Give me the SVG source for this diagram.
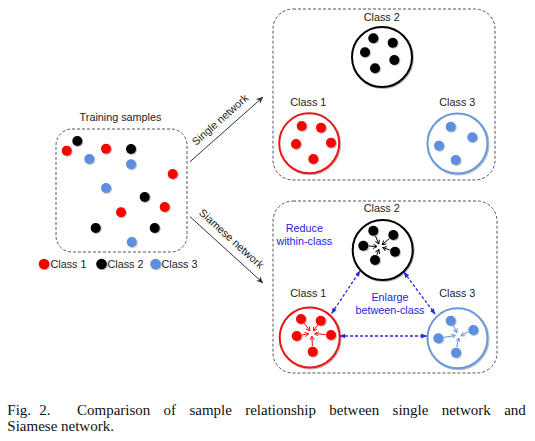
<svg xmlns="http://www.w3.org/2000/svg" width="535" height="441" viewBox="0 0 535 441">
<style>
.box{fill:none;stroke:#555;stroke-width:1;stroke-dasharray:3 2}
.lbl{font-family:"Liberation Sans",Arial,sans-serif;font-size:10.8px;fill:#222}
.blue{font-family:"Liberation Sans",Arial,sans-serif;font-size:10.8px;fill:#2323e8}
.cap{font-family:"Liberation Serif","Times New Roman",serif;font-size:15px;fill:#111}
.r{fill:#f00}
.k{fill:#000}
.b{fill:#5b8fdf}
.dot{filter:url(#sh)}
.ring{fill:#fff;stroke-width:2;filter:url(#sh)}
.conn{stroke:#333;stroke-width:1;fill:none;marker-end:url(#ah)}
.bd{stroke:#2a2ae0;stroke-width:1.3;stroke-dasharray:3 2;fill:none;marker-start:url(#bh);marker-end:url(#bh)}
.cv{stroke-width:1;fill:none}
</style>
<defs>
<filter id="sh" x="-50%" y="-50%" width="200%" height="200%">
<feDropShadow dx="0.8" dy="0.8" stdDeviation="0.6" flood-color="#000" flood-opacity="0.35"/>
</filter>
<marker id="ah" viewBox="0 0 10 10" refX="9" refY="5" markerWidth="7" markerHeight="7" orient="auto">
<path d="M0,0.5 L10,5 L0,9.5 L3,5 z" fill="#333"/>
</marker>
<marker id="bh" viewBox="0 0 10 10" refX="9" refY="5" markerWidth="6" markerHeight="6" markerUnits="userSpaceOnUse" orient="auto-start-reverse">
<path d="M0,1 L10,5 L0,9 z" fill="#2a2ae0"/>
</marker>
<marker id="cr" viewBox="0 0 6 6" refX="5" refY="3" markerWidth="5" markerHeight="5" markerUnits="userSpaceOnUse" orient="auto">
<path d="M0.5,0.3 L5,3 L0.5,5.7" fill="none" stroke="#f00" stroke-width="1.1"/>
</marker>
<marker id="ck" viewBox="0 0 6 6" refX="5" refY="3" markerWidth="5" markerHeight="5" markerUnits="userSpaceOnUse" orient="auto">
<path d="M0.5,0.3 L5,3 L0.5,5.7" fill="none" stroke="#000" stroke-width="1.1"/>
</marker>
<marker id="cb" viewBox="0 0 6 6" refX="5" refY="3" markerWidth="5" markerHeight="5" markerUnits="userSpaceOnUse" orient="auto">
<path d="M0.5,0.3 L5,3 L0.5,5.7" fill="none" stroke="#5b8fdf" stroke-width="1.1"/>
</marker>
</defs>

<g id="training">
<rect class="box" x="56" y="129" width="131" height="123" rx="16"/>
<text class="lbl" x="120.5" y="120.7" text-anchor="middle">Training samples</text>
<g class="dot">
<circle class="r" cx="66.7" cy="150.7" r="5"/>
<circle class="k" cx="77.3" cy="141" r="5"/>
<circle class="r" cx="106" cy="148.7" r="5"/>
<circle class="k" cx="131" cy="149" r="5"/>
<circle class="b" cx="89.3" cy="159" r="5"/>
<circle class="b" cx="131" cy="164.3" r="5"/>
<circle class="r" cx="172.7" cy="174" r="5"/>
<circle class="b" cx="106" cy="188" r="5"/>
<circle class="k" cx="144.7" cy="197" r="5"/>
<circle class="r" cx="164.7" cy="207" r="5"/>
<circle class="r" cx="121" cy="212.3" r="5"/>
<circle class="k" cx="95.7" cy="228" r="5"/>
<circle class="k" cx="154.7" cy="228" r="5"/>
<circle class="b" cx="131.7" cy="242" r="5"/>
</g>
</g>

<g id="legend">
<g class="dot">
<circle class="r" cx="44" cy="264" r="5.3"/>
<circle class="k" cx="101.5" cy="264" r="5.3"/>
<circle class="b" cx="155.5" cy="264" r="5.3"/>
</g>
<text class="lbl" x="50.5" y="268">Class 1</text>
<text class="lbl" x="107.5" y="268">Class 2</text>
<text class="lbl" x="161.5" y="268">Class 3</text>
</g>

<g id="single-result">
<rect class="box" x="273" y="9" width="222" height="171" rx="20"/>
<g id="single-class2">
<text class="lbl" x="381.7" y="20.5" text-anchor="middle">Class 2</text>
<circle class="ring" cx="382" cy="57" r="30" stroke="#000"/>
<g class="dot">
<circle class="k" cx="373.3" cy="38.3" r="5"/>
<circle class="k" cx="392.7" cy="42.7" r="5"/>
<circle class="k" cx="365" cy="52.3" r="5"/>
<circle class="k" cx="394.3" cy="60" r="5"/>
<circle class="k" cx="375" cy="68.3" r="5"/>
</g>
</g>
<g id="single-class1">
<text class="lbl" x="308.3" y="106" text-anchor="middle">Class 1</text>
<circle class="ring" cx="309.2" cy="143.3" r="30" stroke="#e81818"/>
<g class="dot">
<circle class="r" cx="301.7" cy="126" r="5"/>
<circle class="r" cx="321" cy="127.7" r="5"/>
<circle class="r" cx="296" cy="144" r="5"/>
<circle class="r" cx="331" cy="142.7" r="5"/>
<circle class="r" cx="313.3" cy="159" r="5"/>
</g>
</g>
<g id="single-class3">
<text class="lbl" x="457.3" y="106" text-anchor="middle">Class 3</text>
<circle class="ring" cx="457.5" cy="143.5" r="30" stroke="#6a98dd"/>
<g class="dot">
<circle class="b" cx="450.7" cy="126.7" r="5"/>
<circle class="b" cx="472.3" cy="137.3" r="5"/>
<circle class="b" cx="439" cy="145.7" r="5"/>
<circle class="b" cx="455.7" cy="160" r="5"/>
</g>
</g>
</g>

<g id="siamese-result">
<rect class="box" x="273" y="201" width="224" height="172" rx="20"/>
<text class="blue" x="304.3" y="232.3" text-anchor="middle">Reduce</text>
<text class="blue" x="304.3" y="245" text-anchor="middle">within-class</text>
<text class="blue" x="390" y="301" text-anchor="middle">Enlarge</text>
<text class="blue" x="390" y="313.5" text-anchor="middle">between-class</text>
<g id="siamese-class2">
<text class="lbl" x="381.7" y="212.3" text-anchor="middle">Class 2</text>
<circle class="ring" cx="382.7" cy="250" r="30" stroke="#000"/>
<g class="dot">
<circle class="k" cx="373.3" cy="230.7" r="5"/>
<circle class="k" cx="393.3" cy="235" r="5"/>
<circle class="k" cx="363.3" cy="245.7" r="5"/>
<circle class="k" cx="395" cy="251.7" r="5"/>
<circle class="k" cx="375" cy="260" r="5"/>
</g>
<g class="cv" stroke="#000" marker-end="url(#ck)">
<line x1="375.4" y1="235.8" x2="378.8" y2="243.9"/>
<line x1="389.2" y1="238.6" x2="382.3" y2="244.7"/>
<line x1="368.8" y1="246" x2="377" y2="246.5"/>
<line x1="389.8" y1="250" x2="382.8" y2="247.6"/>
<line x1="376.9" y1="254.8" x2="378.9" y2="249.5"/>
</g>
</g>
<g id="siamese-class1">
<text class="lbl" x="308.3" y="296.7" text-anchor="middle">Class 1</text>
<circle class="ring" cx="309.7" cy="337.5" r="30" stroke="#e81818"/>
<g class="dot">
<circle class="r" cx="301" cy="319" r="5"/>
<circle class="r" cx="320.7" cy="320.7" r="5"/>
<circle class="r" cx="296.7" cy="336" r="5"/>
<circle class="r" cx="331" cy="335" r="5"/>
<circle class="r" cx="312.7" cy="351.7" r="5"/>
</g>
<g class="cv" stroke="#f00" marker-end="url(#cr)">
<line x1="304.3" y1="323.4" x2="309.9" y2="330.9"/>
<line x1="317.5" y1="325.2" x2="313.4" y2="330.9"/>
<line x1="302.1" y1="335" x2="308.7" y2="333.8"/>
<line x1="325.5" y1="334.5" x2="314.7" y2="333.6"/>
<line x1="312.4" y1="346.2" x2="311.9" y2="336.3"/>
</g>
</g>
<g id="siamese-class3">
<text class="lbl" x="457.3" y="296.7" text-anchor="middle">Class 3</text>
<circle class="ring" cx="457.5" cy="338.3" r="30" stroke="#6a98dd"/>
<g class="dot">
<circle class="b" cx="450.7" cy="320.7" r="5"/>
<circle class="b" cx="473.3" cy="330" r="5"/>
<circle class="b" cx="438.3" cy="338.3" r="5"/>
<circle class="b" cx="456" cy="352.7" r="5"/>
</g>
<g class="cv" stroke="#5b8fdf" marker-end="url(#cb)">
<line x1="453.3" y1="325.6" x2="456.9" y2="332.4"/>
<line x1="468.1" y1="331.7" x2="461.1" y2="335.9"/>
<line x1="443.7" y1="337.4" x2="455.3" y2="335.5"/>
<line x1="456.7" y1="347.2" x2="458.7" y2="338"/>
</g>
</g>
</g>

<g id="connectors">
<line class="conn" x1="190" y1="161.7" x2="262.7" y2="97.3"/>
<line class="conn" x1="190" y1="216.7" x2="262.7" y2="282.7"/>
<text class="lbl" transform="translate(222.5,122.5) rotate(-41.5)" text-anchor="middle">Single network</text>
<text class="lbl" transform="translate(229,241.5) rotate(42.2)" text-anchor="middle">Siamese network</text>
<line class="bd" x1="331.7" y1="313.3" x2="360" y2="271"/>
<line class="bd" x1="404" y1="272.3" x2="435" y2="314"/>
<line class="bd" x1="340" y1="336" x2="426.7" y2="336"/>
</g>

<g id="caption" class="cap">
<text y="414.5"><tspan x="7.3">Fig.</tspan><tspan x="39.3">2.</tspan><tspan x="77">Comparison</tspan><tspan x="163.6">of</tspan><tspan x="189.4">sample</tspan><tspan x="245.2">relationship</tspan><tspan x="329.3">between</tspan><tspan x="392.6">single</tspan><tspan x="441.7">network</tspan><tspan x="504.2">and</tspan></text>
<text x="7.3" y="431">Siamese network.</text>
</g>
</svg>
